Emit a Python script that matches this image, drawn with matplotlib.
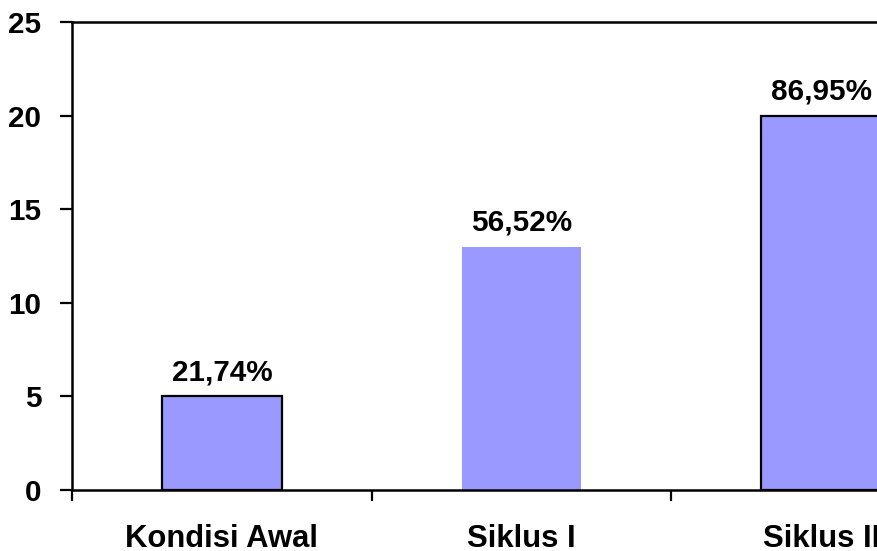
import matplotlib
matplotlib.use("Agg")
import matplotlib.pyplot as plt

categories = ["Kondisi Awal", "Siklus I", "Siklus II"]
values = [5, 13, 20]
labels = ["21,74%", "56,52%", "86,95%"]
yticks = [0, 5, 10, 15, 20, 25]

plt.rcParams['font.family'] = ['Liberation Sans', 'DejaVu Sans']
FS = 21.3

fig = plt.figure(figsize=(8.78, 5.51), dpi=100)
ax = fig.add_axes([72/878, 61/551, (971-72)/878, (490-22)/551])

x = list(range(len(categories)))
edges = ["black", "none", "black"]
for xi, v, ec in zip(x, values, edges):
    ax.bar(xi, v, width=0.4, color="#9999FF", edgecolor=ec, linewidth=1.6, zorder=2)

for xi, v, lab in zip(x, values, labels):
    ax.text(xi, v + 0.85, lab, ha="center", va="baseline", fontsize=FS, fontweight="bold")

ax.set_xlim(-0.5, 2.5)
ax.set_ylim(0, 25)
ax.set_yticks(yticks)
ax.set_xticks(x)
ax.set_xticklabels(categories, fontsize=22.3, fontweight="bold")
ax.set_xticks([-0.5, 0.5, 1.5, 2.5], minor=True)
ax.tick_params(axis="x", which="major", length=0, pad=24.5)
ax.tick_params(axis="x", which="minor", length=8, width=1.6, direction="out")
ax.tick_params(axis="y", length=9, width=1.6, direction="out", labelsize=FS, pad=13)
for t in ax.get_yticklabels():
    t.set_fontweight("bold")
for s in ["left", "bottom", "top", "right"]:
    ax.spines[s].set_linewidth(1.8)

fig.savefig("out.png", dpi=100)
